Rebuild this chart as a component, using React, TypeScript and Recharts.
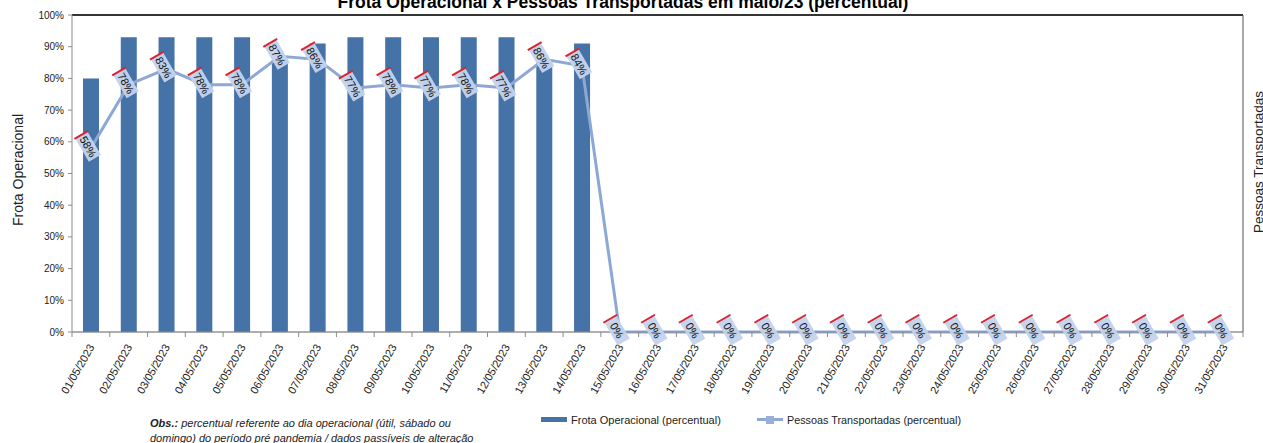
import React from "react";
import {
  Bar,
  CartesianGrid,
  ComposedChart,
  Line,
  ReferenceLine,
  XAxis,
  YAxis,
} from "recharts";

const dias = [
  "01/05/2023", "02/05/2023", "03/05/2023", "04/05/2023", "05/05/2023",
  "06/05/2023", "07/05/2023", "08/05/2023", "09/05/2023", "10/05/2023",
  "11/05/2023", "12/05/2023", "13/05/2023", "14/05/2023", "15/05/2023",
  "16/05/2023", "17/05/2023", "18/05/2023", "19/05/2023", "20/05/2023",
  "21/05/2023", "22/05/2023", "23/05/2023", "24/05/2023", "25/05/2023",
  "26/05/2023", "27/05/2023", "28/05/2023", "29/05/2023", "30/05/2023",
  "31/05/2023",
];

const frota = [
  80, 93, 93, 93, 93, 86, 91, 93, 93, 93, 93, 93, 85, 91,
  0, 0, 0, 0, 0, 0, 0, 0, 0, 0, 0, 0, 0, 0, 0, 0, 0,
];

const pessoas = [
  58, 78, 83, 78, 78, 87, 86, 77, 78, 77, 78, 77, 86, 84,
  0, 0, 0, 0, 0, 0, 0, 0, 0, 0, 0, 0, 0, 0, 0, 0, 0,
];

const yTicks = [0, 10, 20, 30, 40, 50, 60, 70, 80, 90, 100];

const data = dias.map((d, i) => ({ dia: d, frota: frota[i], pessoas: pessoas[i] }));

const FONT = "'Liberation Sans', Arial, sans-serif";
const BAR = "#4572A7";
const LINE = "#8EA8D6";

const BAND = (1243 - 72) / dias.length;

const DateTick = (props: any) => {
  const { x, y, payload, index } = props;
  return (
    <g>
      <line x1={x - BAND / 2} y1={332} x2={x - BAND / 2} y2={337} stroke="#8c8c8c" />
      {index === dias.length - 1 && (
        <line x1={x + BAND / 2} y1={332} x2={x + BAND / 2} y2={337} stroke="#8c8c8c" />
      )}
      <text
        x={x + 4}
        y={y + 7}
        textAnchor="end"
        fontSize={11}
        fontFamily={FONT}
        fill="#222"
        transform={`rotate(-60, ${x + 4}, ${y + 7})`}
      >
        {payload.value}
      </text>
    </g>
  );
};

const SquareDot = (props: any) => {
  const { cx, cy } = props;
  if (cx == null || cy == null) return null;
  return <rect x={cx - 4} y={cy - 4} width={8} height={8} fill="#97AFD9" />;
};

const PctLabel = (props: any) => {
  const { x, y, value } = props;
  const cx = x - 3;
  const cy = y - 2;
  return (
    <g transform={`translate(${cx}, ${cy}) rotate(60)`}>
      <rect x={-13} y={-7} width={27} height={14} fill="#C3D3EC" opacity={0.95} />
      <line x1={-13} y1={-8} x2={-13} y2={8} stroke="#D8262E" strokeWidth={2} />
      <text
        x={0.5}
        y={4}
        textAnchor="middle"
        fontSize={11}
        fontFamily={FONT}
        fill="#111"
      >
        {value}%
      </text>
    </g>
  );
};

export default function App() {
  return (
    <div
      style={{
        position: "relative",
        width: 1263,
        height: 443,
        background: "#fff",
        fontFamily: FONT,
        overflow: "hidden",
      }}
    >
      <style>{"html, body { margin: 0; padding: 0; }"}</style>
      <ComposedChart
        width={1263}
        height={443}
        data={data}
        margin={{ top: 15, right: 0, left: 0, bottom: 0 }}
        barCategoryGap={0}
      >
        <CartesianGrid vertical={false} stroke="#a3a3a3" />
        <XAxis
          dataKey="dia"
          interval={0}
          height={111}
          tickLine={false}
          axisLine={{ stroke: "#8c8c8c" }}
          tick={<DateTick />}
        />
        <YAxis
          yAxisId="l"
          domain={[0, 100]}
          ticks={yTicks}
          width={72}
          tickSize={4}
          tickMargin={4}
          tickLine={{ stroke: "#8c8c8c" }}
          axisLine={{ stroke: "#8c8c8c" }}
          tickFormatter={(v: number) => `${v}%`}
          tick={{ fontSize: 10, fontFamily: FONT, fill: "#222" }}
        />
        <YAxis
          yAxisId="r"
          orientation="right"
          domain={[0, 100]}
          ticks={yTicks}
          width={20}
          tick={false}
          tickLine={false}
          axisLine={{ stroke: "#555" }}
        />
        <ReferenceLine yAxisId="l" y={100} stroke="#000" strokeWidth={1.5} />
        <Bar
          yAxisId="l"
          dataKey="frota"
          fill={BAR}
          barSize={16}
          isAnimationActive={false}
        />
        <Line
          yAxisId="r"
          dataKey="pessoas"
          stroke={LINE}
          strokeWidth={3}
          dot={<SquareDot />}
          activeDot={false}
          label={<PctLabel />}
          isAnimationActive={false}
        />
      </ComposedChart>

      <svg
        width={1263}
        height={443}
        style={{ position: "absolute", left: 0, top: 0, zIndex: 5, pointerEvents: "none" }}
      >
        <text
          x={623}
          y={8}
          textAnchor="middle"
          fontFamily={FONT}
          fontWeight="bold"
          fontSize={17.5}
          fill="#000"
        >
          Frota Operacional x Pessoas Transportadas em maio/23 (percentual)
        </text>
        <text
          x={23}
          y={170}
          textAnchor="middle"
          fontFamily={FONT}
          fontSize={14}
          fill="#222"
          transform="rotate(-90, 23, 170)"
        >
          Frota Operacional
        </text>
        <text
          x={1263}
          y={162}
          textAnchor="middle"
          fontFamily={FONT}
          fontSize={13.5}
          fill="#222"
          transform="rotate(-90, 1263, 162)"
        >
          Pessoas Transportadas
        </text>
        <text x={150} y={427} fontFamily={FONT} fontSize={11} fontStyle="italic" fill="#222">
          <tspan fontWeight="bold">Obs.:</tspan> percentual referente ao dia operacional (útil, sábado ou
        </text>
        <text x={150} y={442} fontFamily={FONT} fontSize={11} fontStyle="italic" fill="#222">
          domingo) do período pré pandemia / dados passíveis de alteração
        </text>
        <rect x={541} y={417} width={26} height={5} fill={BAR} />
        <text x={571} y={423.5} fontFamily={FONT} fontSize={11} fill="#222">
          Frota Operacional (percentual)
        </text>
        <line x1={757} y1={419.5} x2={783} y2={419.5} stroke={LINE} strokeWidth={3} />
        <rect x={766} y={416} width={8} height={8} fill="#97AFD9" />
        <text x={787} y={423.5} fontFamily={FONT} fontSize={10.8} fill="#222">
          Pessoas Transportadas (percentual)
        </text>
      </svg>
    </div>
  );
}
